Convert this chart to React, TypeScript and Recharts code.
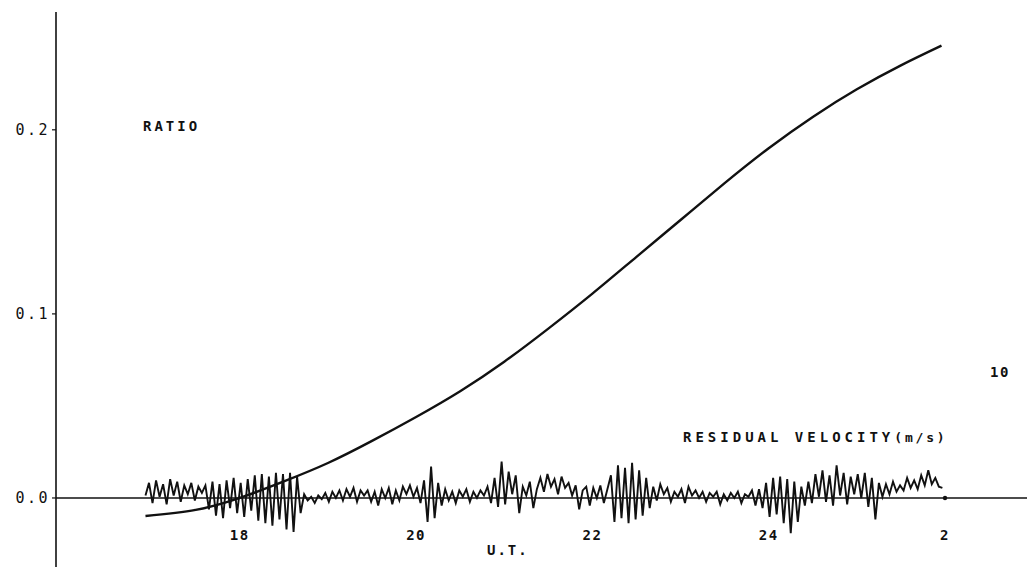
import React from "react";
import {
  LineChart,
  Line,
  XAxis,
  YAxis,
  ReferenceLine,
  ReferenceDot,
} from "recharts";

// ratio curve, half-hourly samples (U.T., hours past midnight of the first day)
const ratioHours = [16.93, 17.5, 18, 18.5, 19, 19.5, 20, 20.5, 21, 21.5, 22, 22.5, 23, 23.5, 24, 24.5, 25, 25.5, 25.96];
const ratioValues = [
  -0.0098, -0.0065, 0.0, 0.009, 0.019, 0.031, 0.044, 0.058, 0.074, 0.092,
  0.111, 0.131, 0.151, 0.171, 0.19, 0.207, 0.222, 0.235, 0.2457,
];

// residual velocity (m/s), sampled every RES_STEP hours from RES_START
const RES_START = 16.93;
const RES_STEP = 0.04;
const residualValues = [
  0.2, 1.2, -0.4, 1.4, 0.1, 1.1, -0.5, 1.5, 0.2, 1.3, -0.3, 1.0, 0.3, 1.2, -0.2, 0.9, 0.4, 1.0,
  -0.9, 1.3, -1.4, 1.1, -1.6, 1.4, -0.8, 1.6, -1.2, 1.2, -1.5, 1.5, -1.0,
  1.8, -1.8, 1.9, -2.0, 1.7, -2.2, 2.0, -1.7, 1.9, -2.5, 2.0, -2.7, 1.7, -1.2,
  0.3, -0.2, 0.1, -0.4, 0.2, -0.1, 0.4, -0.3, 0.5, 0.0, 0.6, -0.2, 0.7, 0.1, 0.8, -0.3, 0.6,
  0.2, 0.6, -0.3, 0.5, -0.6, 0.7, 0.0, 0.8, -0.5, 0.6, -0.2, 0.9, 0.3, 1.0, 0.1, 0.8, -0.4,
  1.4, -1.9, 2.5, -1.6, 1.2, -0.6, 0.7, -0.2, 0.5, -0.4, 0.6, 0.1, 0.7, -0.3,
  0.5, 0.0, 0.6, 0.2, 0.9, -0.4, 1.6, -0.7, 2.9, -0.5, 2.1, 0.3, 1.8, -1.2, 0.9, 0.2, 1.3, -0.8, 0.7,
  1.6, 0.5, 1.9, 0.9, 1.5, 0.3, 1.7, 0.8, 1.2, 0.2, 1.0, -0.9, 0.6,
  0.9, -0.6, 0.8, 0.0, 1.0, -0.4, 0.7,
  1.8, -1.9, 2.6, -1.6, 2.4, -2.0, 2.8, -1.7, 2.2, -1.4, 1.6, -0.8,
  0.9, -0.2, 1.1, 0.3, 0.8, -0.3, 0.5, 0.1, 0.7, -0.4, 0.9, 0.2, 0.6,
  0.0, 0.5, -0.3, 0.4, 0.1, 0.5, -0.5, 0.3, -0.2, 0.4, 0.0, 0.5, -0.4, 0.3, 0.1, 0.6, -0.6, 0.7,
  -0.8, 1.2, -1.5, 1.6, -1.3, 1.7, -2.0, 1.5, -2.8, 1.3, -1.9, 0.9, -0.6,
  1.3, -0.4, 1.9, 0.1, 2.2, -0.3, 1.8, -0.6, 2.6, 0.2, 2.0, -0.5, 1.7,
  0.3, 1.9, 0.0, 2.0, -0.7, 1.6, -1.7, 1.2,
  0.1, 1.1, 0.3, 1.3, 0.5, 1.0, 0.6, 1.6, 0.8, 1.4, 0.7, 1.8, 1.0, 2.2, 1.1, 1.6, 0.9, 0.8,
];

const hourTicks = [18, 20, 22, 24, 26];
const ratioTicks = [0, 0.1, 0.2];
const velocityTicks = [10];

const FONT = '"DejaVu Sans Mono", monospace';

const ratioData = ratioHours.map((t, i) => ({ t, ratio: ratioValues[i] }));
const residualData = residualValues.map((v, i) => ({ t: RES_START + i * RES_STEP, vel: v }));

// past midnight the clock restarts: 26 h is printed as 2
const hourLabel = (h: number) => String(h > 24 ? h - 24 : h);

// hour labels sit just under the zero line, not at the bottom of the plot
const HourTick = ({ x, y, payload }: any) => (
  <text x={x} y={y - 35} textAnchor="middle" fontFamily={FONT} fontSize={14} fontWeight="bold" letterSpacing={1.5} fill="#111">
    {hourLabel(payload.value)}
  </text>
);

const VelTick = ({ x, y, payload }: any) => (
  <text x={x - 35} y={y + 5} textAnchor="middle" fontFamily={FONT} fontSize={14} fontWeight="bold" letterSpacing={1.5} fill="#111">
    {payload.value}
  </text>
);

const labelStyle: React.CSSProperties = {
  position: "absolute",
  fontFamily: FONT,
  fontSize: 14,
  fontWeight: "bold",
  letterSpacing: 3,
  color: "#111",
  whiteSpace: "nowrap",
  lineHeight: "14px",
};

export default function App() {
  return (
    <div style={{ position: "absolute", left: 0, top: 0, width: 1028, height: 567, background: "#fff", overflow: "hidden" }}>
      <LineChart width={1028} height={568} margin={{ top: 12, right: 0, bottom: 0, left: 0 }}>
        <XAxis
          dataKey="t"
          type="number"
          domain={[15.915, 26.93]}
          ticks={hourTicks}
          height={1}
          axisLine={false}
          tickLine={false}
          tick={(p: any) => <HourTick {...p} />}
          interval={0}
          allowDataOverflow
        />
        <YAxis
          yAxisId="ratio"
          width={56}
          type="number"
          domain={[-0.0375, 0.264]}
          ticks={ratioTicks}
          tickFormatter={(v: number) => v.toFixed(1)}
          axisLine={{ stroke: "#111", strokeWidth: 1.6 }}
          tickLine={{ stroke: "#111", strokeWidth: 1.2 }}
          tickSize={4}
          tick={{ fontFamily: FONT, fontSize: 15, fill: "#111", letterSpacing: 2.5 }}
          allowDataOverflow
        />
        <YAxis
          yAxisId="vel"
          orientation="right"
          width={1}
          type="number"
          domain={[-5.476, 38.57]}
          ticks={velocityTicks}
          axisLine={false}
          tickLine={false}
          tick={(p: any) => <VelTick {...p} />}
          interval={0}
          allowDataOverflow
        />
        <ReferenceLine yAxisId="ratio" y={0} stroke="#111" strokeWidth={1.6} />
        <Line
          yAxisId="vel"
          data={residualData}
          dataKey="vel"
          type="linear"
          stroke="#111"
          strokeWidth={1.9}
          dot={false}
          isAnimationActive={false}
        />
        <Line
          yAxisId="ratio"
          data={ratioData}
          dataKey="ratio"
          type="natural"
          stroke="#111"
          strokeWidth={2.4}
          dot={false}
          isAnimationActive={false}
        />
        <ReferenceDot yAxisId="vel" x={26} y={0} r={2.2} fill="#111" stroke="none" />
      </LineChart>
      <div style={{ ...labelStyle, left: 143, top: 119 }}>RATIO</div>
      <div style={{ ...labelStyle, left: 683, top: 430, letterSpacing: 4 }}>
        RESIDUAL VELOCITY<span style={{ fontSize: 13, letterSpacing: 2.8 }}>(m/s)</span>
      </div>
      <div style={{ ...labelStyle, left: 487, top: 543, letterSpacing: 2 }}>U.T.</div>
    </div>
  );
}
